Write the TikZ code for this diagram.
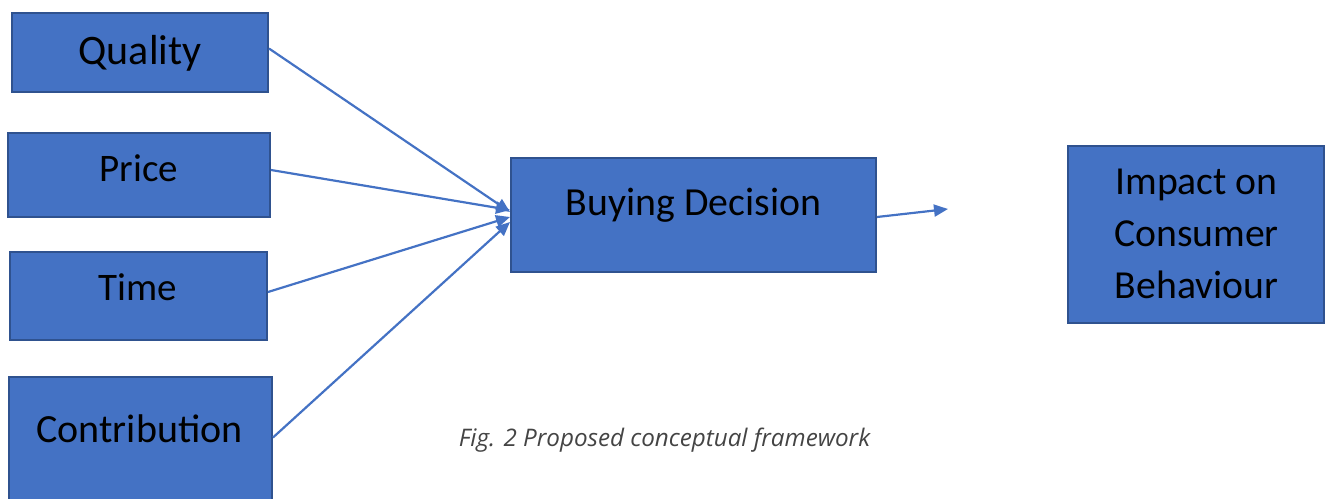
\documentclass[tikz,border=0pt]{standalone}
\usepackage{fontspec}
\setmainfont{Carlito}
\newfontfamily\capfont{Open Sans}
\usetikzlibrary{arrows.meta}
\definecolor{boxfill}{HTML}{4472C4}
\definecolor{boxline}{HTML}{2F528F}
\definecolor{capgray}{HTML}{444444}
\begin{document}
\begin{tikzpicture}[x=1pt,y=1pt,
  factor/.style={draw=boxline, line width=2pt, fill=boxfill, rectangle,
                 inner sep=0pt, minimum width=#1},
  label text/.style={anchor=base, inner sep=0pt, font=\fontsize{39}{47}\selectfont},
  link/.style={draw=boxfill, line width=2.2pt,
               -{Triangle[length=14pt,width=12pt]}}]
\useasboundingbox (0,0) rectangle (1325,498);

% boxes
\node[factor=256pt, minimum height=79pt]  (q)  at (140,445.5) {};
\node[factor=262pt, minimum height=84pt]  (p)  at (139,323) {};
\node[factor=257pt, minimum height=88pt]  (t)  at (138.5,202) {};
\node[factor=263pt, minimum height=127pt] (c)  at (140.5,57.5) {};
\node[factor=365pt, minimum height=114pt] (bd) at (693.5,283) {};
\node[factor=256pt, minimum height=177pt] (im) at (1196,263.5) {};

% box texts
\node[label text, font=\fontsize{42}{50}\selectfont] (qt) at (140,433) {Quality};
\node[label text] (pt) at (139,316) {Price};
\node[label text] (tt) at (138,197) {Time};
\node[label text, font=\fontsize{40}{48}\selectfont] (ct) at (139.5,56) {Contribution};
\node[label text, font=\fontsize{39.8}{48}\selectfont] (bt) at (693.5,282) {Buying Decision};
\node[label text, font=\fontsize{39.7}{48}\selectfont] (it1) at (1196.5,303) {Impact on};
\node[label text, font=\fontsize{39.7}{48}\selectfont] (it2) at (1196.5,251) {Consumer};
\node[label text, font=\fontsize{39.7}{48}\selectfont] (it3) at (1196.5,199) {Behaviour};

% caption
\node[anchor=base, inner sep=0pt, text=capgray,
      font=\capfont\itshape\fontsize{24.2}{29}\selectfont] (cap) at (664.5,51)
  {Fig. 2 Proposed conceptual framework};

% connectors
\coordinate (out) at (948,289);
\draw[link] ([yshift=4pt]q.east) -- ([yshift=-55pt]bd.north west);
\draw[link] ([yshift=5pt]p.east) -- ([yshift=-53pt]bd.north west);
\draw[link] ([yshift=4pt]t.east) -- ([yshift=-60pt]bd.north west);
\draw[link] ([yshift=3pt]c.east) -- ([yshift=-65pt]bd.north west);
\draw[link] ([yshift=-2pt]bd.east) -- (out);
\end{tikzpicture}
\end{document}
